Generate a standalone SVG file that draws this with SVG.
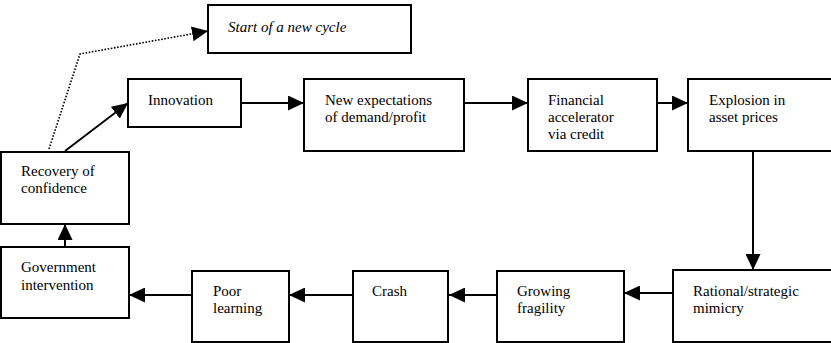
<svg xmlns="http://www.w3.org/2000/svg" width="831" height="343" viewBox="0 0 831 343">
  <style>
    .box { fill: #fff; stroke: #000; stroke-width: 2; }
    .edge { fill: none; stroke: #000; stroke-width: 2; }
    .dot { fill: none; stroke: #000; stroke-width: 1.6; stroke-dasharray: 1.6 1.6; }
  </style>
  <defs>
    <marker id="head" markerWidth="16" markerHeight="15" refX="16" refY="7.5" orient="auto" markerUnits="userSpaceOnUse">
      <path d="M0,0 L16,7.5 L0,15 Z" fill="#000"/>
    </marker>
  </defs>

  <rect width="831" height="343" fill="#fff"/>

  <g id="connectors">
    <line class="edge" x1="241" y1="103" x2="304" y2="103" marker-end="url(#head)"/>
    <line class="edge" x1="464" y1="103" x2="528" y2="103" marker-end="url(#head)"/>
    <line class="edge" x1="657" y1="103" x2="688" y2="103" marker-end="url(#head)"/>
    <line class="edge" x1="753" y1="151" x2="753" y2="270" marker-end="url(#head)"/>
    <line class="edge" x1="673" y1="293" x2="624" y2="293" marker-end="url(#head)"/>
    <line class="edge" x1="497" y1="295" x2="449" y2="295" marker-end="url(#head)"/>
    <line class="edge" x1="353" y1="295" x2="289" y2="295" marker-end="url(#head)"/>
    <line class="edge" x1="192" y1="295" x2="129" y2="295" marker-end="url(#head)"/>
    <line class="edge" x1="65" y1="247" x2="65" y2="224" marker-end="url(#head)"/>
    <line class="edge" x1="65" y1="151" x2="128" y2="103" marker-end="url(#head)"/>
    <polyline class="dot" points="49,149 80,54 208,31" marker-end="url(#head)"/>
  </g>

  <g id="start-cycle">
    <rect class="box" x="208" y="5" width="203" height="48"/>
    <text x="228" y="32" font-family="Liberation Serif" font-size="15" font-style="italic">Start of a new cycle</text>
  </g>

  <g id="innovation">
    <rect class="box" x="128" y="79" width="113" height="48"/>
    <text x="148" y="105" font-family="Liberation Serif" font-size="15">Innovation</text>
  </g>

  <g id="new-expectations">
    <rect class="box" x="304" y="79" width="160" height="72"/>
    <text x="325" y="105" font-family="Liberation Serif" font-size="15">New expectations</text>
    <text x="325" y="122" font-family="Liberation Serif" font-size="15">of demand/profit</text>
  </g>

  <g id="financial-accelerator">
    <rect class="box" x="528" y="79" width="129" height="72"/>
    <text x="548" y="105" font-family="Liberation Serif" font-size="15">Financial</text>
    <text x="548" y="122" font-family="Liberation Serif" font-size="15">accelerator</text>
    <text x="548" y="139" font-family="Liberation Serif" font-size="15">via credit</text>
  </g>

  <g id="asset-prices">
    <rect class="box" x="688" y="79" width="160" height="72"/>
    <text x="709" y="105" font-family="Liberation Serif" font-size="15">Explosion in</text>
    <text x="709" y="122" font-family="Liberation Serif" font-size="15">asset prices</text>
  </g>

  <g id="mimicry">
    <rect class="box" x="673" y="270" width="175" height="72"/>
    <text x="693" y="296" font-family="Liberation Serif" font-size="15">Rational/strategic</text>
    <text x="693" y="313" font-family="Liberation Serif" font-size="15">mimicry</text>
  </g>

  <g id="fragility">
    <rect class="box" x="497" y="271" width="127" height="71"/>
    <text x="517" y="296" font-family="Liberation Serif" font-size="15">Growing</text>
    <text x="517" y="313" font-family="Liberation Serif" font-size="15">fragility</text>
  </g>

  <g id="crash">
    <rect class="box" x="353" y="271" width="95" height="71"/>
    <text x="372" y="296" font-family="Liberation Serif" font-size="15">Crash</text>
  </g>

  <g id="poor-learning">
    <rect class="box" x="192" y="271" width="97" height="71"/>
    <text x="213" y="296" font-family="Liberation Serif" font-size="15">Poor</text>
    <text x="213" y="313" font-family="Liberation Serif" font-size="15">learning</text>
  </g>

  <g id="government">
    <rect class="box" x="1" y="247" width="128" height="71"/>
    <text x="21" y="272" font-family="Liberation Serif" font-size="15">Government</text>
    <text x="21" y="290" font-family="Liberation Serif" font-size="15">intervention</text>
  </g>

  <g id="recovery">
    <rect class="box" x="1" y="152" width="128" height="72"/>
    <text x="21" y="176" font-family="Liberation Serif" font-size="15">Recovery of</text>
    <text x="21" y="193" font-family="Liberation Serif" font-size="15">confidence</text>
  </g>
</svg>
